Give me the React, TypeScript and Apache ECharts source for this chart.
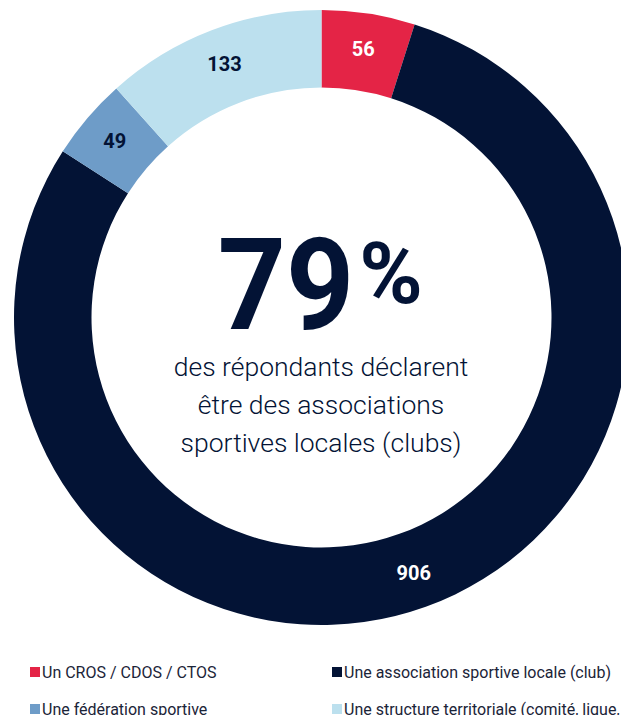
import React, { useEffect, useRef } from "react";
import * as echarts from "echarts";

const categories = [
  "Un CROS / CDOS / CTOS",
  "Une association sportive locale (club)",
  "Une fédération sportive",
  "Une structure territoriale (comité, ligue, district)",
];
const values = [56, 906, 49, 133];
const colors = ["#E42446", "#031335", "#6E9CC8", "#BCE0EE"];
const labelColors = ["#FFFFFF", "#FFFFFF", "#031335", "#031335"];
const bigNumber = "79";
const subtitleLines = [
  "des répondants déclarent",
  "être des associations",
  "sportives locales (clubs)",
];

export default function App() {
  const ref = useRef<HTMLDivElement>(null);
  useEffect(() => {
    if (!ref.current) return;
    const chart = echarts.init(ref.current, undefined, { renderer: "svg" });
    const legendText = {
      fontFamily: "Roboto",
      fontSize: 16,
      color: "#1B2438",
      padding: [0, 0, 0, -3],
    };
    const legendBase = {
      orient: "vertical",
      top: 659,
      height: 120,
      itemWidth: 10,
      itemHeight: 10,
      itemGap: 21,
      icon: "rect",
      textStyle: legendText,
    };
    chart.setOption({
      animation: false,
      legend: [
        { ...legendBase, data: [categories[0], categories[2]], left: 25 },
        { ...legendBase, data: [categories[1], categories[3]], left: 327 },
      ],
      series: [
        {
          type: "pie",
          center: [321.5, 317.5],
          radius: [230, 307.5],
          startAngle: 90,
          clockwise: true,
          silent: true,
          label: {
            show: true,
            position: "inside",
            formatter: "{c}",
            fontFamily: "Roboto",
            fontWeight: "bold",
            fontSize: 20,
          },
          labelLine: { show: false },
          data: categories.map((name, i) => ({
            name,
            value: values[i],
            itemStyle: { color: colors[i] },
            label: { color: labelColors[i] },
          })),
        },
      ],
      graphic: [
        {
          type: "text",
          x: 286,
          y: 285,
          scaleX: 0.93,
          style: {
            text: bigNumber,
            fontFamily: "Roboto",
            fontWeight: "bold",
            fontSize: 128,
            fill: "#031335",
            align: "center",
            verticalAlign: "middle",
          },
        },
        {
          type: "text",
          x: 391,
          y: 273,
          style: {
            text: "%",
            fontFamily: "Roboto",
            fontWeight: "bold",
            fontSize: 86,
            fill: "#031335",
            align: "center",
            verticalAlign: "middle",
          },
        },
        ...subtitleLines.map((t, i) => ({
          type: "text",
          x: 321,
          y: 366 + i * 38,
          style: {
            text: t,
            fontFamily: "Roboto",
            fontWeight: 300,
            fontSize: 26.5,
            fill: "#031335",
            align: "center",
            verticalAlign: "middle",
          },
        })),
      ],
    });
    return () => chart.dispose();
  }, []);
  return (
    <div
      ref={ref}
      style={{ position: "absolute", left: 0, top: 0, width: 621, height: 715 }}
    />
  );
}
